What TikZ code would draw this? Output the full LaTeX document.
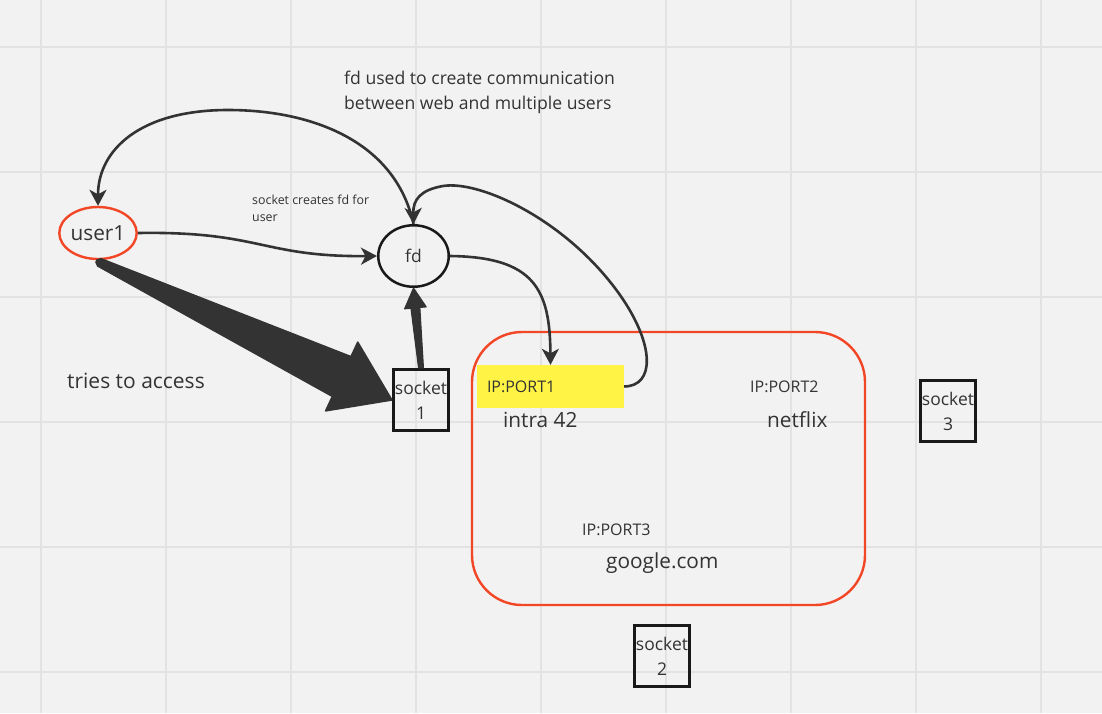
\documentclass[tikz,border=0pt]{standalone}
\usepackage{fontspec}
\setmainfont{Open Sans}
\usetikzlibrary{arrows.meta,calc,shapes.geometric}
\definecolor{bg}{HTML}{F2F2F2}
\definecolor{gridc}{HTML}{E2E2E2}
\definecolor{ink}{HTML}{333333}
\definecolor{miroRed}{HTML}{F24726}
\definecolor{miroYellow}{HTML}{FFF445}
\begin{document}
\begin{tikzpicture}[x=1pt,y=-1pt,
  link/.style={ink, line width=2.6pt, -{Stealth[length=16pt,width=17pt,inset=4.5pt]}},
  sockbox/.style={draw=black!90, line width=2.6pt, minimum width=55.5pt, minimum height=61.5pt, inner sep=0pt, align=center, text=ink, font=\fontsize{17.5}{25}\selectfont},
  txt/.style={text=ink, inner sep=0pt, anchor=west, align=left}]
\fill[bg] (0,0) rectangle (1102,713);
\useasboundingbox (0,0) rectangle (1102,713);
\foreach \gx in {41,166,...,1041} \draw[gridc, line width=1.5pt] (\gx,0) -- (\gx,713);
\foreach \gy in {47,172,...,672} \draw[gridc, line width=1.5pt] (0,\gy) -- (1102,\gy);
% web servers
\node[draw=miroRed, line width=2.4pt, rounded corners=50pt, minimum width=393pt, minimum height=273pt] (web) at (668.5,468.5){};
\node[fill=miroYellow, minimum width=147pt, minimum height=43pt, text width=127pt, inner xsep=10pt, inner ysep=0pt, text=ink, font=\fontsize{16}{18}\selectfont] (port1) at (550.5,386.5){IP:PORT1};
\node[txt, font=\fontsize{20.8}{24}\selectfont] (intra) at (503,420){intra 42};
\node[txt, font=\fontsize{16}{18}\selectfont] (port2) at (750,387){IP:PORT2};
\node[txt, font=\fontsize{20.8}{24}\selectfont] (netflix) at (767,420){netflix};
\node[txt, font=\fontsize{16}{18}\selectfont] (port3) at (582,530){IP:PORT3};
\node[txt, font=\fontsize{20.8}{24}\selectfont] (google) at (606,563){google.com};
% user side
\node[ellipse, draw=miroRed, line width=2.4pt, minimum width=70pt, minimum height=52pt, inner sep=0pt, text=ink, font=\fontsize{20.8}{24}\selectfont] (user1) at (98,233){user1};
\node[ellipse, draw=black!90, line width=2.5pt, minimum width=70.5pt, minimum height=61.5pt, inner sep=0pt, text=ink, font=\fontsize{17.5}{20}\selectfont] (fd) at (413.5,256){fd};
\node[sockbox] (socket1) at (421,400){socket\\1};
\node[sockbox] (socket2) at (662,656){socket\\2};
\node[sockbox] (socket3) at (948,411){socket\\3};
\node[txt, font=\fontsize{21}{24}\selectfont] (tries) at (67,381){tries to access};
\node[txt, font=\fontsize{12.4}{17}\selectfont] (note) at (252,208){socket creates fd for\\user};
\node[txt, font=\fontsize{17.6}{25}\selectfont] (title) at (344,92){fd used to create communication\\between web and multiple users};
% connectors
\draw[link](user1.east) .. controls (260,231) and (262,257) .. (fd.west);
\draw[link](fd.north) .. controls (395,140) and (310,110) .. (228,110) .. controls (140,110) and (98,150) .. (user1.north);
\draw[link](fd.east) .. controls (535,257) and (550,290) .. (port1.north);
\draw[link](port1.east) .. controls (655,386) and (655,345) .. (620,295) .. controls (567,220) and (480,180) .. (443,186) .. controls (420,190) and (413,200) .. (fd.north);
\filldraw[ink, line width=1.5pt, line join=round] ($(user1.south)+(2.7,-1.6)$) -- ($(socket1.west)+(-41,-43.4)$) -- ($(socket1.west)+(-34.2,-57.9)$) -- (socket1.west) -- ($(socket1.west)+(-66.4,10.9)$) -- ($(socket1.west)+(-59.6,-3.6)$) -- ($(user1.south)+(-0.7,5.6)$) -- cycle;
\fill[ink] ($(user1.south)+(1,2)$) circle (3.8);
\filldraw[ink, line width=1pt, line join=round] ($(socket1.north)+(2.5,0)$) -- ($(fd.south)+(6.4,19.5)$) -- ($(fd.south)+(12.8,18.9)$) -- (fd.south) -- ($(fd.south)+(-9,20.9)$) -- ($(fd.south)+(-2.6,20.3)$) -- ($(socket1.north)+(-2.5,0)$) -- cycle;
\end{tikzpicture}
\end{document}
